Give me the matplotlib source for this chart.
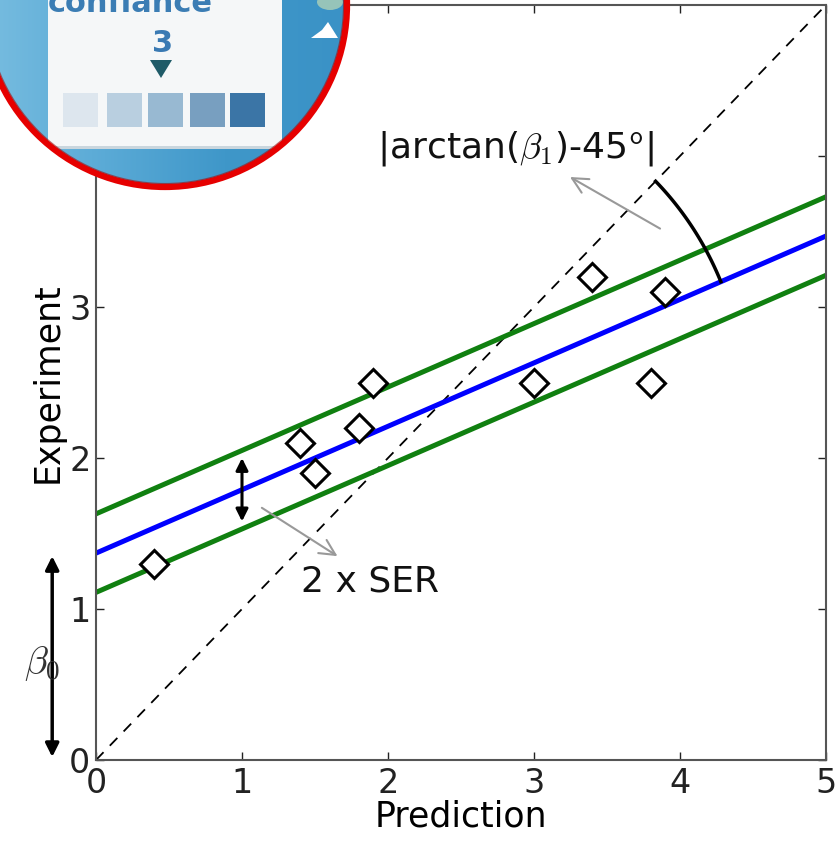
import numpy as np
import matplotlib
matplotlib.use("Agg")
import matplotlib.pyplot as plt
from matplotlib.patches import Circle, Rectangle, Polygon, Ellipse
from matplotlib.colors import LinearSegmentedColormap

plt.rcParams['font.family'] = ['DejaVu Sans']
plt.rcParams['mathtext.fontset'] = 'cm'

# measured vs predicted values
pred = [0.4, 1.4, 1.5, 1.8, 1.9, 3.0, 3.4, 3.8, 3.9]
expt = [1.3, 2.1, 1.9, 2.2, 2.5, 2.5, 3.2, 2.5, 3.1]

# regression fit and standard error of regression
beta0 = 1.37
beta1 = 0.42
ser = 0.26

xticks = [0, 1, 2, 3, 4, 5]
yticks = [0, 1, 2, 3, 4]

fig = plt.figure(figsize=(8.4, 8.41), dpi=100)
ax = fig.add_axes([96 / 840, 81 / 841, 730 / 840, 755 / 841])

xs = np.array([0, 5])
ax.plot(xs, xs, 'k--', lw=1.3, dashes=(6, 5))
ax.plot(xs, beta0 + beta1 * xs + ser, color='#108010', lw=3.6)
ax.plot(xs, beta0 + beta1 * xs - ser, color='#108010', lw=3.6)
ax.plot(xs, beta0 + beta1 * xs, color='#0000ff', lw=3.6)
ax.plot(pred, expt, 'D', ms=14, mfc='white', mec='black', mew=2.2, zorder=5)

# angle between fit line and the diagonal
xc = beta0 / (1 - beta1)
r = 2.08
th = np.linspace(np.arctan(beta1), np.pi / 4, 60)
ax.plot(xc + r * np.cos(th), xc + r * np.sin(th), color='black', lw=2.5)
ax.annotate('', xy=(3.23, 3.87), xytext=(3.88, 3.51),
            arrowprops=dict(arrowstyle='->', color='#999999', lw=1.5, mutation_scale=28))
ax.text(2.87, 4.05, r'|arctan($\beta_1$)-45$^{\mathsf{o}}$|', fontsize=26,
        ha='center', va='center', color='#111111')

# band width
ax.annotate('', xy=(1, beta0 + beta1 - ser + 0.05), xytext=(1, beta0 + beta1 + ser - 0.05),
            arrowprops=dict(arrowstyle='<|-|>', color='black', lw=2.2, mutation_scale=18,
                            shrinkA=0, shrinkB=0))
ax.annotate('', xy=(1.67, 1.34), xytext=(1.12, 1.68),
            arrowprops=dict(arrowstyle='->', color='#999999', lw=1.5, mutation_scale=28))
ax.text(1.88, 1.18, '2 x SER', fontsize=26, ha='center', va='center', color='#111111')

# intercept
ax.annotate('', xy=(-0.30, 0.02), xytext=(-0.30, beta0 - 0.02), xycoords='data',
            annotation_clip=False,
            arrowprops=dict(arrowstyle='<|-|>', color='black', lw=2.5, mutation_scale=20,
                            shrinkA=0, shrinkB=0))
ax.text(-0.37, 0.64, r'$\beta_0$', fontsize=28, ha='center', va='center',
        color='#333333', clip_on=False)

ax.set_xlim(0, 5)
ax.set_ylim(0, 5)
ax.set_xticks(xticks)
ax.set_yticks(yticks)
ax.tick_params(direction='in', length=6, width=1, top=True, right=True,
               labelsize=24, colors='#222222')
ax.tick_params(axis='x', pad=5)
ax.tick_params(axis='y', pad=4)
for s in ax.spines.values():
    s.set_color('#555555')
    s.set_linewidth(1.5)
ax.set_xlabel('Prediction', fontsize=25, labelpad=0)
ax.set_ylabel('Experiment', fontsize=25, labelpad=3)

# zoomed screenshot badge in the corner
ov = fig.add_axes([0, 0, 1, 1], zorder=10)
ov.set_xlim(0, 840)
ov.set_ylim(841, 0)
ov.axis('off')
ov.patch.set_alpha(0)

cx, cy, rad = 165, 5, 182
clip = Circle((cx, cy), rad, transform=ov.transData)
bg = LinearSegmentedColormap.from_list('bg', ['#78bde0', '#5aaad6', '#3f97c9', '#3a92c6'])
grad = np.tile(np.linspace(0, 1, 256), (64, 1))
im = ov.imshow(grad, cmap=bg, extent=(cx - rad, cx + rad, cy + rad, cy - rad),
               aspect='auto', zorder=1)
im.set_clip_path(clip)

panel = Rectangle((48, -20), 234, 166, facecolor='#f5f7f8', edgecolor='none', zorder=2)
ov.add_patch(panel)
panel.set_clip_path(clip)
shade = Rectangle((48, 146), 234, 3, facecolor='#c9d6de', edgecolor='none', zorder=2)
ov.add_patch(shade)
shade.set_clip_path(clip)

t = ov.text(130, 12, 'confiance', fontsize=22, fontweight='bold', color='#3b7db4',
            ha='center', va='baseline', zorder=3)
t.set_clip_path(clip)
ov.text(163, 43, '3', fontsize=22, fontweight='bold', color='#3a7ab3',
        ha='center', va='center', zorder=3)
ov.add_patch(Polygon([[150, 60], [172, 60], [161, 78]], closed=True,
                     facecolor='#1f5b68', edgecolor='none', zorder=3))

square_colors = ['#dde6ee', '#b9cfe0', '#98b9d2', '#789fc0', '#3b75a6']
square_left = [63, 107, 148, 190, 230]
for xl, c in zip(square_left, square_colors):
    ov.add_patch(Rectangle((xl, 93), 35, 34, facecolor=c, edgecolor='none', zorder=3))

cloud = Polygon([[311, 38], [322, 30], [328, 22], [333, 30], [338, 38]], closed=True,
                facecolor='white', edgecolor='none', zorder=3)
ov.add_patch(cloud)
cloud.set_clip_path(clip)
glow = Ellipse((330, 2), 26, 16, facecolor='#e3eeb0', edgecolor='none', alpha=0.55, zorder=3)
ov.add_patch(glow)
glow.set_clip_path(clip)

ov.add_patch(Circle((cx, cy), rad, facecolor='none', edgecolor='#e60000', lw=4.5, zorder=4))
ov.add_patch(Circle((cx, cy), rad - 3.5, facecolor='none', edgecolor='#9a1010', lw=0.8,
                    alpha=0.6, zorder=4))

fig.savefig('out.png', dpi=100)
